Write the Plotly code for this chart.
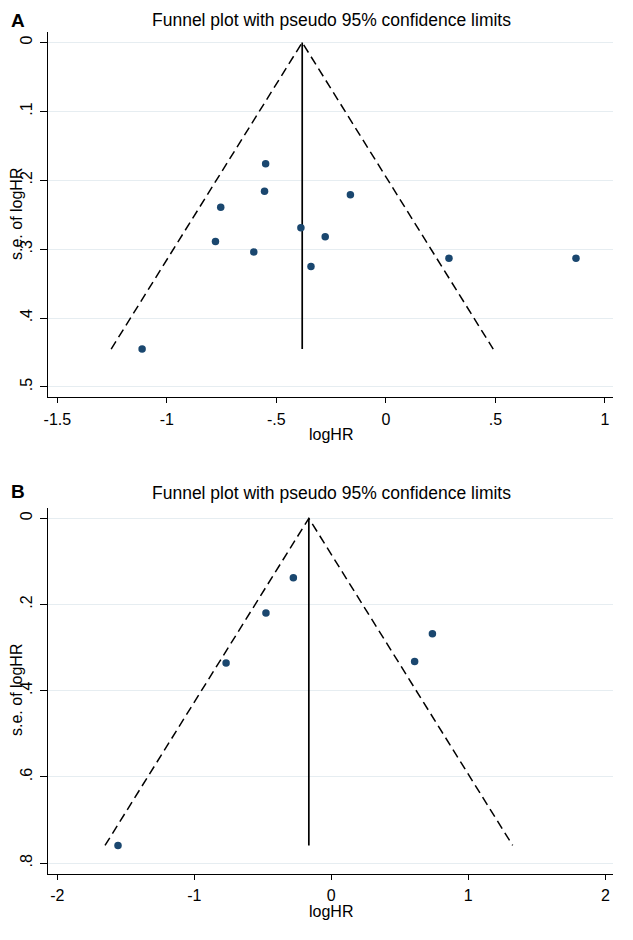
import plotly.graph_objects as go

# Panel A data
a_loghr = [-0.549, -0.554, -0.754, -0.162, -0.388, -0.277, -0.778, -0.603, -0.342, 0.288, 0.868, -1.113]
a_se = [0.176, 0.216, 0.239, 0.221, 0.269, 0.282, 0.289, 0.304, 0.325, 0.313, 0.313, 0.445]
a_pooled = -0.382
a_se_max = 0.445
a_xticks = [-1.5, -1, -0.5, 0, 0.5, 1]
a_xticktext = ["-1.5", "-1", "-.5", "0", ".5", "1"]
a_yticks = [0, 0.1, 0.2, 0.3, 0.4, 0.5]
a_yticktext = ["0", ".1", ".2", ".3", ".4", ".5"]

# Panel B data
b_loghr = [-0.277, -0.477, -0.768, 0.608, 0.738, -1.557]
b_se = [0.138, 0.220, 0.336, 0.332, 0.268, 0.759]
b_pooled = -0.164
b_se_max = 0.759
b_xticks = [-2, -1, 0, 1, 2]
b_xticktext = ["-2", "-1", "0", "1", "2"]
b_yticks = [0, 0.2, 0.4, 0.6, 0.8]
b_yticktext = ["0", ".2", ".4", ".6", ".8"]

title_text = "Funnel plot with pseudo 95% confidence limits"
x_title = "logHR"
y_title = "s.e. of logHR"
FONT = "Liberation Sans, Arial, sans-serif"
MARK = "#1a476f"
GRID = "#e6edf1"

fig = go.Figure()

def add_panel(xs, ses, pooled, semax, xa, ya):
    z = 1.96
    fig.add_trace(go.Scatter(x=[pooled - z * semax, pooled, pooled + z * semax],
                             y=[semax, 0, semax], mode="lines",
                             line=dict(color="black", width=1.5, dash="9px,5px"),
                             xaxis=xa, yaxis=ya, showlegend=False, hoverinfo="skip"))
    fig.add_trace(go.Scatter(x=[pooled, pooled], y=[0, semax], mode="lines",
                             line=dict(color="black", width=1.7),
                             xaxis=xa, yaxis=ya, showlegend=False, hoverinfo="skip"))
    fig.add_trace(go.Scatter(x=xs, y=ses, mode="markers",
                             marker=dict(color=MARK, size=7.5),
                             xaxis=xa, yaxis=ya, showlegend=False))

add_panel(a_loghr, a_se, a_pooled, a_se_max, "x", "y")
add_panel(b_loghr, b_se, b_pooled, b_se_max, "x2", "y2")

# page has an 8px body margin; figure sized to fit the 633x940 window
OFF = 8
W, H = 633 - OFF, 940 - OFF

def px(v):
    return (v - OFF) / W

def py(v):
    return 1 - (v - OFF) / H

xdom = [px(47.7), px(613)]

def xaxis(rng, tv, tt, anchor):
    return dict(domain=xdom, range=rng, tickvals=tv, ticktext=tt, anchor=anchor, automargin=False,
                showgrid=False, zeroline=False, showline=True, linecolor="black", linewidth=1.3,
                ticks="outside", ticklen=5, tickcolor="black", tickwidth=1.2, ticklabelstandoff=2,
                tickfont=dict(size=16, color="black", family=FONT))

def yaxis(rng, dom, tv, tt, anchor):
    return dict(domain=dom, range=rng, tickvals=tv, ticktext=tt, anchor=anchor, automargin=False,
                showgrid=True, gridcolor=GRID, gridwidth=1.2, zeroline=False,
                showline=True, linecolor="black", linewidth=1.3,
                ticks="outside", ticklen=7, tickcolor="black", tickwidth=1.2, tickangle=-90,
                ticklabelstandoff=1,
                tickfont=dict(size=16, color="black", family=FONT))

def ann(text, x, y, size=16, angle=0, anchor="center"):
    return dict(text=text, x=x, y=y, xref="paper", yref="paper", showarrow=False,
                xanchor=anchor, yanchor="middle", textangle=angle,
                font=dict(size=size, color="black", family=FONT))

fig.update_layout(
    width=W, height=H, autosize=False,
    margin=dict(l=0, r=0, t=0, b=0),
    paper_bgcolor="white", plot_bgcolor="white",
    xaxis=xaxis([-1.544, 1.037], a_xticks, a_xticktext, "y"),
    yaxis=yaxis([0.515, -0.0148], [py(397.3), py(32.3)], a_yticks, a_yticktext, "x"),
    xaxis2=xaxis([-2.070, 2.056], b_xticks, b_xticktext, "y2"),
    yaxis2=yaxis([0.8253, -0.0232], [py(874), py(508.3)], b_yticks, b_yticktext, "x2"),
    annotations=[
        ann(title_text, px(331), py(20), size=17.5),
        ann(title_text, px(331), py(493), size=17.5),
        ann("<b>A</b>", 0.5 / W, py(20), size=19, anchor="left"),
        ann("<b>B</b>", 0.5 / W, py(492), size=19, anchor="left"),
        ann(x_title, px(331), py(434)),
        ann(x_title, px(331), py(911)),
        ann(y_title, px(16), py(214), angle=-90),
        ann(y_title, px(16), py(690), angle=-90),
    ],
)

fig.write_html("out.html")
